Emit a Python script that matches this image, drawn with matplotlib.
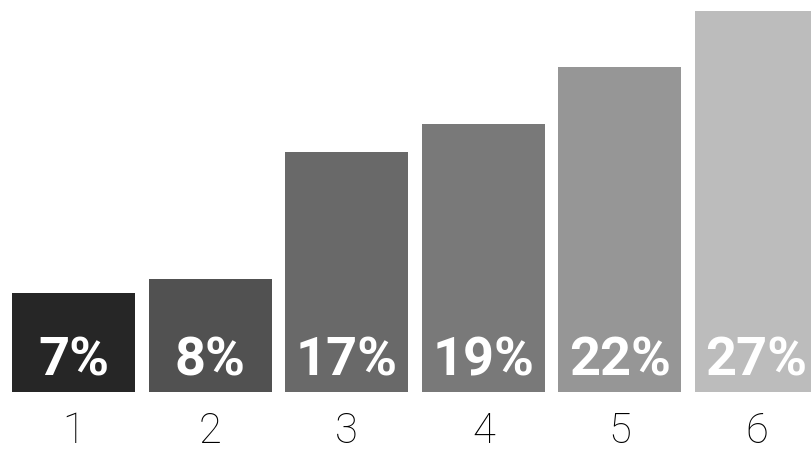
import matplotlib.pyplot as plt
import numpy as np

categorias = ['1', '2', '3', '4', '5', '6']
valores = [7, 8, 17, 19, 23, 27]
rotulos = ['7%', '8%', '17%', '19%', '22%', '27%']
cores = ['#262626', '#515151', '#696969', '#797979', '#969696', '#bcbcbc']

plt.rcParams['font.family'] = ['Roboto', 'DejaVu Sans']

fig = plt.figure(figsize=(8.12, 4.49), dpi=100)
ax = fig.add_axes([0, 57 / 449, 1, 392 / 449])

x = np.arange(len(categorias))
ax.bar(x, valores, width=0.9, color=cores)

for xi, r in zip(x, rotulos):
    ax.annotate(r, (xi, 0), xytext=(0, 12), textcoords='offset points',
                ha='center', va='baseline', color='white',
                fontsize=39, fontweight='bold')

ax.set_xlim(-0.538, 5.406)
ax.set_ylim(0, 27.78)
ax.set_xticks(x)
ax.set_xticklabels(categorias, fontsize=30, fontweight='light')
ax.tick_params(axis='x', length=0, pad=13.5)
ax.set_yticks([])
for s in ax.spines.values():
    s.set_visible(False)

fig.savefig('out.png', dpi=100)
